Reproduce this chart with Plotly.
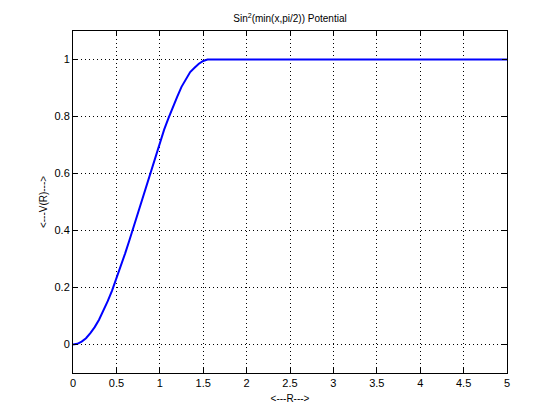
import plotly.graph_objects as go

x_vals = [0, 0.05, 0.1, 0.15, 0.2, 0.25, 0.3, 0.35, 0.4, 0.45, 0.5, 0.55, 0.6, 0.65,
          0.7, 0.75, 0.8, 0.85, 0.9, 0.95, 1.0, 1.05, 1.1, 1.15, 1.2, 1.25, 1.3, 1.35,
          1.4, 1.45, 1.5, 1.55, 1.6, 2.0, 3.0, 4.0, 5.0]
v_vals = [0, 0.0025, 0.010, 0.022, 0.040, 0.061, 0.087, 0.118, 0.152, 0.189, 0.230,
          0.273, 0.319, 0.366, 0.415, 0.465, 0.515, 0.565, 0.614, 0.662, 0.708, 0.754,
          0.794, 0.835, 0.869, 0.904, 0.928, 0.956, 0.971, 0.985, 0.995, 1.0, 1.0,
          1.0, 1.0, 1.0, 1.0]

x_ticks = [0, 0.5, 1, 1.5, 2, 2.5, 3, 3.5, 4, 4.5, 5]
y_ticks = [0, 0.2, 0.4, 0.6, 0.8, 1]

fig = go.Figure()
fig.add_trace(go.Scatter(x=x_vals, y=v_vals, mode="lines",
                         line=dict(color="#0000ff", width=2), showlegend=False))

axis_common = dict(
    showline=True, linecolor="black", linewidth=1, mirror="allticks",
    ticks="inside", ticklen=5, tickcolor="black",
    showgrid=True, gridcolor="black", griddash="1px,3px", gridwidth=1,
    zeroline=False, tickfont=dict(size=11, color="black"),
)

fig.update_layout(
    width=552, height=412,
    margin=dict(l=65, r=53, t=23, b=47),
    paper_bgcolor="white", plot_bgcolor="white",
    font=dict(family="Liberation Sans, Arial, sans-serif", size=10, color="black"),
    title=dict(text="Sin<sup>2</sup>(min(x,pi/2)) Potential", x=0.5, xanchor="center",
               xref="paper", y=0.975, yanchor="middle", font=dict(size=10)),
    xaxis=dict(range=[0, 5], tickvals=x_ticks, ticktext=[str(t) for t in x_ticks],
               title=dict(text="<---R--->", standoff=6, font=dict(size=10)), **axis_common),
    yaxis=dict(range=[-0.1, 1.1], tickvals=y_ticks, ticktext=[str(t) for t in y_ticks],
               title=dict(text="<---V(R)--->", standoff=5, font=dict(size=10)), **axis_common),
)

fig.write_html("out.html")
